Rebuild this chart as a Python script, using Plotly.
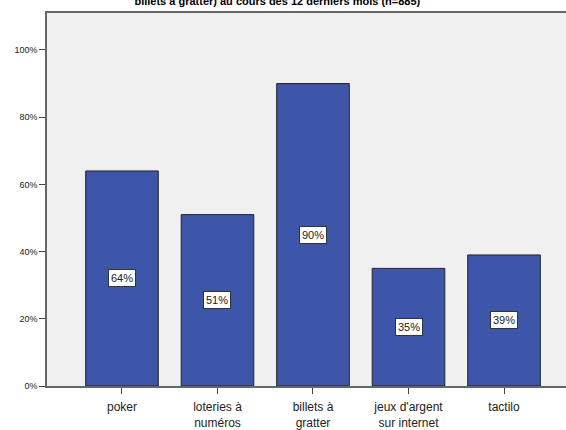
import plotly.graph_objects as go

categories = ["poker", "loteries à<br>numéros", "billets à<br>gratter", "jeux d'argent<br>sur internet", "tactilo"]
values = [64, 51, 90, 35, 39]
value_labels = ["64%", "51%", "90%", "35%", "39%"]
y_ticks = [0, 20, 40, 60, 80, 100]
y_tick_labels = ["0%", "20%", "40%", "60%", "80%", "100%"]
title_text = "billets à gratter) au cours des 12 derniers mois (n=885)"

fig = go.Figure()
fig.add_trace(go.Bar(
    x=categories, y=values, width=0.76,
    marker=dict(color="#3D56AA", line=dict(color="#222222", width=1)),
    hoverinfo="skip",
))

for c, v, t in zip(categories, values, value_labels):
    fig.add_annotation(
        x=c, y=v / 2, text=t, showarrow=False,
        font=dict(family="Liberation Sans, Arial", size=11, color="#222222"),
        bgcolor="white", bordercolor="#333333", borderwidth=1, borderpad=2,
    )

fig.update_layout(
    width=566, height=430,
    margin=dict(l=47, r=0, t=13, b=44, autoexpand=False),
    paper_bgcolor="white", plot_bgcolor="#F0F0F0",
    showlegend=False,
    title=dict(text="<b>" + title_text + "</b>", x=0.49, xanchor="center",
               y=0.998, yanchor="middle", yref="container", automargin=False,
               font=dict(family="Liberation Sans, Arial", size=11, color="black")),
    font=dict(family="Liberation Sans, Arial", color="#222222"),
)
fig.update_xaxes(
    type="category", range=[-0.785, 4.649], automargin=False,
    showline=True, linecolor="#666666", linewidth=1.5, mirror=True,
    ticks="outside", ticklen=6, tickcolor="#444444", ticklabelstandoff=3,
    tickfont=dict(size=12, color="#222222"),
    showgrid=False, zeroline=False, fixedrange=True,
)
fig.update_yaxes(
    range=[0, 111], tickvals=y_ticks, ticktext=y_tick_labels, automargin=False,
    showline=True, linecolor="#666666", linewidth=1.5,
    ticks="outside", ticklen=6, tickcolor="#444444",
    tickfont=dict(size=9, color="#222222"),
    showgrid=False, zeroline=False, fixedrange=True,
)

fig.write_html("out.html", config={"displayModeBar": False},
               post_script="document.body.style.margin='0';document.body.style.overflow='hidden';")
